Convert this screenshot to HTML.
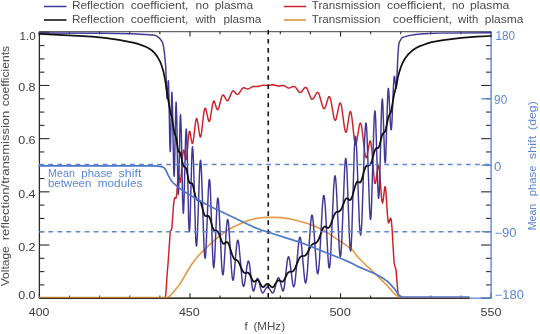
<!DOCTYPE html>
<html><head><meta charset="utf-8"><style>
html,body{margin:0;padding:0;background:#fff;}
svg{display:block;}
svg{will-change:transform;}
text{font-family:"Liberation Sans", sans-serif;}
</style></head><body>
<svg width="540" height="334" viewBox="0 0 540 334">
<rect width="540" height="334" fill="#fff"/>
<!-- legend -->
<line x1="44" y1="6.5" x2="66.5" y2="6.5" stroke="#413896" stroke-width="1.5"/>
<line x1="44" y1="20" x2="66.5" y2="20" stroke="#333" stroke-width="1.8"/>
<line x1="284" y1="6.5" x2="306" y2="6.5" stroke="#cc2229" stroke-width="1.5"/>
<line x1="284" y1="20" x2="306" y2="20" stroke="#e39a45" stroke-width="1.7"/>
<g font-size="11.6" fill="#4a4a4a">
<text x="71.9" y="9.0" textLength="52.5" lengthAdjust="spacingAndGlyphs">Reflection</text>
<text x="130.8" y="9.0" textLength="57.6" lengthAdjust="spacingAndGlyphs">coefficient,</text>
<text x="195.5" y="9.0" textLength="13.3" lengthAdjust="spacingAndGlyphs">no</text>
<text x="214.7" y="9.0" textLength="38.4" lengthAdjust="spacingAndGlyphs">plasma</text>
<text x="71.9" y="22.5" textLength="52.5" lengthAdjust="spacingAndGlyphs">Reflection</text>
<text x="130.8" y="22.5" textLength="57.6" lengthAdjust="spacingAndGlyphs">coefficient,</text>
<text x="195.5" y="22.5" textLength="20.4" lengthAdjust="spacingAndGlyphs">with</text>
<text x="223.4" y="22.5" textLength="38.0" lengthAdjust="spacingAndGlyphs">plasma</text>
<text x="311.8" y="9.0" textLength="68.6" lengthAdjust="spacingAndGlyphs">Transmission</text>
<text x="387.1" y="9.0" textLength="58.6" lengthAdjust="spacingAndGlyphs">coefficient,</text>
<text x="451.9" y="9.0" textLength="12.6" lengthAdjust="spacingAndGlyphs">no</text>
<text x="470.1" y="9.0" textLength="39.3" lengthAdjust="spacingAndGlyphs">plasma</text>
<text x="311.8" y="22.5" textLength="68.6" lengthAdjust="spacingAndGlyphs">Transmission</text>
<text x="392.8" y="22.5" textLength="59.5" lengthAdjust="spacingAndGlyphs">coefficient,</text>
<text x="458.1" y="22.5" textLength="20.2" lengthAdjust="spacingAndGlyphs">with</text>
<text x="484.8" y="22.5" textLength="38.6" lengthAdjust="spacingAndGlyphs">plasma</text>
</g>
<!-- box -->
<line x1="39.4" y1="31.6" x2="491.1" y2="31.6" stroke="#666" stroke-width="1.3"/>
<line x1="39.4" y1="32.3" x2="39.4" y2="298.2" stroke="#2a2a2a" stroke-width="1.3"/>
<line x1="39.4" y1="298.2" x2="469.6" y2="298.2" stroke="#2a2a2a" stroke-width="1.3"/>
<line x1="469.6" y1="298.2" x2="491.1" y2="298.2" stroke="#5b87d6" stroke-width="1.3"/>
<line x1="39.4" y1="298.20" x2="49.4" y2="298.20" stroke="#2a2a2a" stroke-width="1.1"/>
<line x1="491.1" y1="298.20" x2="481.1" y2="298.20" stroke="#2a2a2a" stroke-width="1.1"/>
<line x1="39.4" y1="284.90" x2="44.4" y2="284.90" stroke="#2a2a2a" stroke-width="1.1"/>
<line x1="491.1" y1="284.90" x2="486.1" y2="284.90" stroke="#2a2a2a" stroke-width="1.1"/>
<line x1="39.4" y1="271.61" x2="44.4" y2="271.61" stroke="#2a2a2a" stroke-width="1.1"/>
<line x1="491.1" y1="271.61" x2="486.1" y2="271.61" stroke="#2a2a2a" stroke-width="1.1"/>
<line x1="39.4" y1="258.31" x2="44.4" y2="258.31" stroke="#2a2a2a" stroke-width="1.1"/>
<line x1="491.1" y1="258.31" x2="486.1" y2="258.31" stroke="#2a2a2a" stroke-width="1.1"/>
<line x1="39.4" y1="245.02" x2="49.4" y2="245.02" stroke="#2a2a2a" stroke-width="1.1"/>
<line x1="491.1" y1="245.02" x2="481.1" y2="245.02" stroke="#2a2a2a" stroke-width="1.1"/>
<line x1="39.4" y1="231.72" x2="44.4" y2="231.72" stroke="#2a2a2a" stroke-width="1.1"/>
<line x1="491.1" y1="231.72" x2="486.1" y2="231.72" stroke="#2a2a2a" stroke-width="1.1"/>
<line x1="39.4" y1="218.43" x2="44.4" y2="218.43" stroke="#2a2a2a" stroke-width="1.1"/>
<line x1="491.1" y1="218.43" x2="486.1" y2="218.43" stroke="#2a2a2a" stroke-width="1.1"/>
<line x1="39.4" y1="205.13" x2="44.4" y2="205.13" stroke="#2a2a2a" stroke-width="1.1"/>
<line x1="491.1" y1="205.13" x2="486.1" y2="205.13" stroke="#2a2a2a" stroke-width="1.1"/>
<line x1="39.4" y1="191.84" x2="49.4" y2="191.84" stroke="#2a2a2a" stroke-width="1.1"/>
<line x1="491.1" y1="191.84" x2="481.1" y2="191.84" stroke="#2a2a2a" stroke-width="1.1"/>
<line x1="39.4" y1="178.55" x2="44.4" y2="178.55" stroke="#2a2a2a" stroke-width="1.1"/>
<line x1="491.1" y1="178.55" x2="486.1" y2="178.55" stroke="#2a2a2a" stroke-width="1.1"/>
<line x1="39.4" y1="165.25" x2="44.4" y2="165.25" stroke="#2a2a2a" stroke-width="1.1"/>
<line x1="491.1" y1="165.25" x2="486.1" y2="165.25" stroke="#2a2a2a" stroke-width="1.1"/>
<line x1="39.4" y1="151.95" x2="44.4" y2="151.95" stroke="#2a2a2a" stroke-width="1.1"/>
<line x1="491.1" y1="151.95" x2="486.1" y2="151.95" stroke="#2a2a2a" stroke-width="1.1"/>
<line x1="39.4" y1="138.66" x2="49.4" y2="138.66" stroke="#2a2a2a" stroke-width="1.1"/>
<line x1="491.1" y1="138.66" x2="481.1" y2="138.66" stroke="#2a2a2a" stroke-width="1.1"/>
<line x1="39.4" y1="125.37" x2="44.4" y2="125.37" stroke="#2a2a2a" stroke-width="1.1"/>
<line x1="491.1" y1="125.37" x2="486.1" y2="125.37" stroke="#2a2a2a" stroke-width="1.1"/>
<line x1="39.4" y1="112.07" x2="44.4" y2="112.07" stroke="#2a2a2a" stroke-width="1.1"/>
<line x1="491.1" y1="112.07" x2="486.1" y2="112.07" stroke="#2a2a2a" stroke-width="1.1"/>
<line x1="39.4" y1="98.78" x2="44.4" y2="98.78" stroke="#2a2a2a" stroke-width="1.1"/>
<line x1="491.1" y1="98.78" x2="486.1" y2="98.78" stroke="#2a2a2a" stroke-width="1.1"/>
<line x1="39.4" y1="85.48" x2="49.4" y2="85.48" stroke="#2a2a2a" stroke-width="1.1"/>
<line x1="491.1" y1="85.48" x2="481.1" y2="85.48" stroke="#2a2a2a" stroke-width="1.1"/>
<line x1="39.4" y1="72.18" x2="44.4" y2="72.18" stroke="#2a2a2a" stroke-width="1.1"/>
<line x1="491.1" y1="72.18" x2="486.1" y2="72.18" stroke="#2a2a2a" stroke-width="1.1"/>
<line x1="39.4" y1="58.89" x2="44.4" y2="58.89" stroke="#2a2a2a" stroke-width="1.1"/>
<line x1="491.1" y1="58.89" x2="486.1" y2="58.89" stroke="#2a2a2a" stroke-width="1.1"/>
<line x1="39.4" y1="45.59" x2="44.4" y2="45.59" stroke="#2a2a2a" stroke-width="1.1"/>
<line x1="491.1" y1="45.59" x2="486.1" y2="45.59" stroke="#2a2a2a" stroke-width="1.1"/>
<line x1="39.4" y1="32.30" x2="49.4" y2="32.30" stroke="#2a2a2a" stroke-width="1.1"/>
<line x1="491.1" y1="32.30" x2="481.1" y2="32.30" stroke="#2a2a2a" stroke-width="1.1"/>
<line x1="39.40" y1="298.2" x2="39.40" y2="293.2" stroke="#2a2a2a" stroke-width="1.1"/>
<line x1="39.40" y1="31.6" x2="39.40" y2="36.6" stroke="#2a2a2a" stroke-width="1.1"/>
<line x1="69.51" y1="298.2" x2="69.51" y2="295.59999999999997" stroke="#2a2a2a" stroke-width="1.1"/>
<line x1="69.51" y1="31.6" x2="69.51" y2="34.2" stroke="#2a2a2a" stroke-width="1.1"/>
<line x1="99.63" y1="298.2" x2="99.63" y2="295.59999999999997" stroke="#2a2a2a" stroke-width="1.1"/>
<line x1="99.63" y1="31.6" x2="99.63" y2="34.2" stroke="#2a2a2a" stroke-width="1.1"/>
<line x1="129.74" y1="298.2" x2="129.74" y2="295.59999999999997" stroke="#2a2a2a" stroke-width="1.1"/>
<line x1="129.74" y1="31.6" x2="129.74" y2="34.2" stroke="#2a2a2a" stroke-width="1.1"/>
<line x1="159.85" y1="298.2" x2="159.85" y2="295.59999999999997" stroke="#2a2a2a" stroke-width="1.1"/>
<line x1="159.85" y1="31.6" x2="159.85" y2="34.2" stroke="#2a2a2a" stroke-width="1.1"/>
<line x1="189.97" y1="298.2" x2="189.97" y2="293.2" stroke="#2a2a2a" stroke-width="1.1"/>
<line x1="189.97" y1="31.6" x2="189.97" y2="36.6" stroke="#2a2a2a" stroke-width="1.1"/>
<line x1="220.08" y1="298.2" x2="220.08" y2="295.59999999999997" stroke="#2a2a2a" stroke-width="1.1"/>
<line x1="220.08" y1="31.6" x2="220.08" y2="34.2" stroke="#2a2a2a" stroke-width="1.1"/>
<line x1="250.19" y1="298.2" x2="250.19" y2="295.59999999999997" stroke="#2a2a2a" stroke-width="1.1"/>
<line x1="250.19" y1="31.6" x2="250.19" y2="34.2" stroke="#2a2a2a" stroke-width="1.1"/>
<line x1="280.31" y1="298.2" x2="280.31" y2="295.59999999999997" stroke="#2a2a2a" stroke-width="1.1"/>
<line x1="280.31" y1="31.6" x2="280.31" y2="34.2" stroke="#2a2a2a" stroke-width="1.1"/>
<line x1="310.42" y1="298.2" x2="310.42" y2="295.59999999999997" stroke="#2a2a2a" stroke-width="1.1"/>
<line x1="310.42" y1="31.6" x2="310.42" y2="34.2" stroke="#2a2a2a" stroke-width="1.1"/>
<line x1="340.53" y1="298.2" x2="340.53" y2="293.2" stroke="#2a2a2a" stroke-width="1.1"/>
<line x1="340.53" y1="31.6" x2="340.53" y2="36.6" stroke="#2a2a2a" stroke-width="1.1"/>
<line x1="370.65" y1="298.2" x2="370.65" y2="295.59999999999997" stroke="#2a2a2a" stroke-width="1.1"/>
<line x1="370.65" y1="31.6" x2="370.65" y2="34.2" stroke="#2a2a2a" stroke-width="1.1"/>
<line x1="400.76" y1="298.2" x2="400.76" y2="295.59999999999997" stroke="#2a2a2a" stroke-width="1.1"/>
<line x1="400.76" y1="31.6" x2="400.76" y2="34.2" stroke="#2a2a2a" stroke-width="1.1"/>
<line x1="430.87" y1="298.2" x2="430.87" y2="295.59999999999997" stroke="#2a2a2a" stroke-width="1.1"/>
<line x1="430.87" y1="31.6" x2="430.87" y2="34.2" stroke="#2a2a2a" stroke-width="1.1"/>
<line x1="460.99" y1="298.2" x2="460.99" y2="295.59999999999997" stroke="#2a2a2a" stroke-width="1.1"/>
<line x1="460.99" y1="31.6" x2="460.99" y2="34.2" stroke="#2a2a2a" stroke-width="1.1"/>
<line x1="491.10" y1="298.2" x2="491.10" y2="293.2" stroke="#2a2a2a" stroke-width="1.1"/>
<line x1="491.10" y1="31.6" x2="491.10" y2="36.6" stroke="#2a2a2a" stroke-width="1.1"/>
<line x1="491.1" y1="32.3" x2="491.1" y2="298.2" stroke="#5b87d6" stroke-width="1.4"/>
<line x1="491.1" y1="32.30" x2="481.5" y2="32.30" stroke="#5b87d6" stroke-width="1.3"/>
<line x1="491.1" y1="98.78" x2="481.5" y2="98.78" stroke="#5b87d6" stroke-width="1.3"/>
<line x1="491.1" y1="165.25" x2="481.5" y2="165.25" stroke="#5b87d6" stroke-width="1.3"/>
<line x1="491.1" y1="231.72" x2="481.5" y2="231.72" stroke="#5b87d6" stroke-width="1.3"/>
<line x1="491.1" y1="298.20" x2="481.5" y2="298.20" stroke="#5b87d6" stroke-width="1.3"/>
<!-- curves -->
<g fill="none" stroke-linejoin="round" stroke-linecap="round">
<path d="M39.4,297.6 165.4,297.6 166.2,289.7 167.0,276.1 168.1,262.7 170.0,235.1 170.5,231.0 170.8,230.4 171.3,230.2 171.5,229.9 171.9,227.8 173.4,206.7 174.1,200.3 174.7,197.7 175.0,197.6 175.6,198.2 175.9,198.3 176.4,196.7 176.9,191.7 177.9,178.1 178.4,174.4 178.7,174.2 178.9,174.9 180.1,182.1 180.4,182.4 180.6,181.6 181.2,176.1 182.6,155.9 183.3,150.6 183.7,150.1 184.1,150.9 185.7,159.1 185.9,159.5 186.1,159.5 186.4,158.5 187.1,153.5 188.6,135.7 189.3,131.4 189.5,131.2 189.7,131.2 190.1,132.4 191.8,142.5 192.2,143.4 192.4,143.4 192.6,143.2 193.1,141.7 193.6,138.7 195.6,121.7 196.2,119.2 196.5,118.7 196.7,118.6 197.2,119.5 197.6,121.6 199.6,135.0 200.1,136.7 200.4,137.0 200.6,136.9 201.0,135.7 201.5,133.2 203.7,113.9 204.3,110.2 204.8,108.4 205.1,108.1 205.3,108.1 205.9,109.2 208.2,119.6 208.7,121.1 209.0,121.4 209.3,121.4 209.8,120.5 210.3,118.5 212.4,105.2 213.4,101.3 213.9,100.9 214.4,101.4 216.7,108.7 217.3,109.6 217.8,109.7 218.4,108.9 219.0,107.2 221.5,97.3 222.2,95.7 222.8,95.1 223.3,95.0 223.8,95.4 226.3,99.9 226.9,100.5 227.5,100.7 228.1,100.3 228.7,99.5 231.5,92.7 232.2,91.5 232.9,90.9 233.4,90.9 234.0,91.2 236.4,94.0 237.1,94.4 237.7,94.5 238.3,94.1 239.0,93.4 242.0,88.8 242.7,88.2 243.4,87.8 244.4,87.8 246.8,88.9 248.1,89.0 249.2,88.6 251.8,87.0 253.2,86.5 258.0,86.5 263.0,85.1 267.7,85.5 272.4,84.8 273.9,85.0 278.1,86.0 279.6,86.0 282.3,85.5 283.5,85.5 284.8,86.0 287.5,87.7 288.7,88.1 290.1,87.8 292.9,86.4 294.2,86.4 295.0,86.8 295.8,87.6 298.9,91.8 299.5,92.3 300.1,92.5 300.9,92.3 301.6,91.7 304.6,87.8 305.3,87.4 305.9,87.4 306.7,88.1 307.5,89.5 310.7,97.8 311.4,98.8 312.1,99.3 312.8,99.1 313.6,98.3 316.6,93.0 317.2,92.4 317.8,92.4 318.5,93.1 319.3,94.7 322.5,106.3 323.3,108.1 324.0,108.8 324.7,108.4 325.5,106.9 328.2,97.7 328.8,96.7 329.4,96.6 330.1,97.8 330.9,100.6 333.9,117.5 334.5,119.6 335.1,120.3 335.4,120.3 335.8,119.8 336.5,117.7 339.2,104.6 339.8,103.2 340.1,102.9 340.4,103.0 341.0,104.3 341.7,107.1 344.4,127.4 345.1,130.7 345.7,132.3 346.0,132.4 346.4,131.9 347.0,129.5 349.6,112.9 350.2,111.5 350.5,111.5 350.8,112.0 351.3,114.0 351.9,117.7 354.3,139.5 354.9,142.9 355.5,144.2 355.8,144.1 356.1,143.5 356.7,141.3 359.4,125.0 360.1,123.3 360.4,123.1 360.7,123.4 361.3,125.2 361.9,128.5 364.6,151.3 365.3,155.2 365.9,157.4 366.2,157.7 366.6,157.5 367.2,155.6 369.1,144.3 369.7,141.7 370.0,141.0 370.3,140.9 370.8,142.1 371.9,150.3 374.0,177.3 374.5,181.4 374.9,183.4 375.2,183.6 375.4,183.4 375.9,181.4 377.9,166.2 378.4,165.0 378.6,165.1 378.8,165.6 379.7,172.7 381.5,197.4 381.9,200.9 382.3,202.7 382.5,203.0 382.7,202.7 383.1,200.9 384.7,187.6 385.0,186.6 385.4,187.2 386.0,192.4 387.4,214.6 388.1,221.4 388.5,222.7 388.7,222.9 388.9,222.7 390.1,218.8 390.6,218.1 391.0,219.0 391.5,221.7 392.1,229.2 393.5,253.4 394.1,262.1 394.7,265.8 395.7,268.5 396.1,270.6 397.8,291.5 398.3,295.0 399.1,297.6 469.6,297.6" stroke="#cc2229" stroke-width="1.45"/>
<path d="M39.4,297.5 167.7,297.5 169.9,295.9 173.7,291.8 178.4,286.1 181.7,281.2 187.0,272.0 191.3,265.0 194.1,260.9 196.9,257.4 201.3,252.6 207.4,246.6 215.3,239.6 221.1,234.9 227.1,230.5 231.8,227.7 243.7,222.2 248.0,220.5 253.5,219.0 259.1,218.0 266.2,217.4 273.3,217.2 281.0,217.6 288.9,218.7 295.8,220.3 305.9,223.0 311.1,224.8 317.2,227.3 323.2,230.3 328.5,233.3 347.8,246.3 351.5,249.1 353.3,251.1 357.2,256.2 360.2,259.5 365.6,264.8 373.6,272.1 383.7,282.1 387.7,286.2 393.0,292.3 396.6,295.6 399.7,297.3 400.2,297.5 469.6,297.5" stroke="#e39a45" stroke-width="1.6"/>
<path d="M39.4,33.0 104.6,33.2 131.9,33.7 149.3,34.7 154.9,35.3 157.0,36.2 159.9,38.6 161.7,41.0 162.8,43.3 163.5,46.5 164.4,52.4 165.7,66.2 166.6,92.0 167.0,98.7 167.1,98.8 167.2,98.5 167.4,96.3 168.2,81.7 168.3,80.8 168.5,81.5 168.9,95.3 169.8,142.6 170.2,151.6 170.4,150.1 170.6,143.1 171.6,98.4 171.8,92.8 171.9,92.2 172.0,92.5 172.5,107.0 173.6,165.8 174.0,176.3 174.3,174.8 174.6,166.4 175.7,109.6 176.0,103.4 176.1,102.1 176.2,102.3 176.8,119.2 177.8,182.6 178.3,194.4 178.4,194.5 178.5,193.0 178.8,184.4 180.0,123.7 180.3,116.1 180.5,114.7 180.5,114.6 180.6,114.8 181.3,131.9 182.6,199.2 183.0,209.3 183.3,213.0 183.3,213.2 183.4,213.1 183.6,211.3 184.0,202.1 185.6,137.7 186.0,130.5 186.2,129.0 186.3,129.2 186.7,134.2 187.1,146.9 188.6,219.3 189.0,228.4 189.3,231.7 189.7,229.2 190.1,220.0 191.8,156.6 192.2,148.9 192.5,146.8 193.0,150.5 193.5,162.0 195.5,232.9 195.9,242.1 196.4,245.9 196.5,246.0 196.6,245.8 196.8,244.1 197.3,237.3 199.5,173.0 200.0,163.2 200.3,161.0 200.5,160.3 200.8,161.3 201.1,164.5 201.6,175.4 204.0,246.3 204.5,254.8 205.0,258.2 205.2,258.0 205.5,256.4 206.0,249.7 208.3,191.6 208.8,182.6 209.1,180.1 209.4,179.4 209.6,180.1 209.9,182.1 210.4,190.1 212.6,253.6 213.1,263.9 213.6,267.7 213.7,267.8 213.9,267.5 214.1,265.9 214.7,258.1 216.9,206.2 217.4,199.9 217.6,198.4 217.9,198.0 218.2,198.9 218.5,201.3 219.1,209.9 221.6,264.3 222.2,271.9 222.7,274.8 223.0,274.8 223.3,273.8 223.8,269.3 226.4,228.0 227.1,221.5 227.4,219.8 227.7,219.4 228.3,221.3 228.8,226.4 231.5,269.7 232.2,277.2 232.8,280.2 233.1,280.3 233.4,279.6 233.9,276.4 236.5,246.4 237.2,241.4 237.6,240.3 237.9,240.1 238.4,241.5 239.0,245.4 241.9,278.0 242.6,283.7 243.3,286.2 243.6,286.4 243.9,286.1 244.5,284.1 247.2,264.7 247.9,261.8 248.2,261.1 248.5,261.0 249.0,262.0 249.6,264.9 252.0,285.6 252.6,289.1 253.2,290.9 253.4,291.1 253.7,291.0 254.2,290.0 256.4,280.5 257.0,278.9 257.6,278.4 258.1,278.8 258.7,280.1 261.0,289.9 261.7,291.8 262.3,292.7 262.8,292.9 263.4,292.6 266.1,288.0 266.8,287.3 267.6,287.0 268.2,287.2 268.9,287.8 271.6,292.2 272.2,292.8 272.7,293.0 273.5,292.5 274.2,290.9 277.1,279.9 277.8,278.3 278.4,277.7 279.0,278.1 279.7,279.7 282.3,290.1 282.9,291.0 283.2,290.9 283.4,290.5 284.0,288.3 284.7,284.1 287.2,261.2 287.9,257.8 288.5,256.7 288.8,256.9 289.1,257.7 289.8,261.1 292.7,283.9 293.4,286.4 293.8,286.7 294.1,286.4 294.8,283.6 295.5,277.8 298.6,243.1 299.2,238.8 299.6,237.5 299.9,237.1 300.2,237.4 300.6,238.7 301.4,244.2 304.5,278.6 305.2,282.3 305.6,283.0 305.9,282.7 306.6,279.2 307.4,271.1 310.6,223.3 311.3,217.2 311.6,215.7 311.9,215.1 312.3,215.5 312.7,217.2 313.4,223.8 316.6,268.1 317.3,272.9 317.6,273.8 317.9,273.7 318.7,269.6 319.5,259.8 322.5,204.4 323.2,197.7 323.5,196.1 323.8,195.4 324.1,195.9 324.5,198.1 325.3,206.7 328.2,261.0 328.8,266.6 329.1,267.8 329.3,268.0 329.4,267.9 329.8,266.5 330.1,263.4 330.8,253.0 333.7,186.7 334.4,178.4 334.7,176.4 335.0,175.7 335.3,176.5 335.7,178.9 336.4,188.4 339.2,247.6 339.8,254.9 340.1,256.4 340.3,256.6 340.4,256.6 340.8,255.1 341.1,251.9 341.8,240.4 344.6,169.7 345.2,161.1 345.5,159.0 345.8,158.4 346.0,158.9 346.3,161.1 346.9,169.0 349.4,237.3 350.0,247.8 350.3,250.4 350.6,251.0 350.9,249.5 351.2,246.0 351.8,233.3 354.3,149.7 354.9,139.8 355.2,137.1 355.4,136.2 355.7,137.0 356.0,139.6 356.7,150.5 359.4,223.8 360.1,232.8 360.4,234.6 360.5,234.9 360.7,234.9 361.3,230.7 361.9,220.5 364.6,139.9 365.3,127.4 365.6,123.9 365.9,122.9 366.2,123.8 366.5,126.6 367.1,137.5 369.6,209.4 370.1,217.2 370.3,219.0 370.5,219.3 370.6,219.3 371.1,215.2 371.6,203.9 373.7,130.4 374.2,117.8 374.7,111.4 375.0,110.9 375.2,112.2 375.7,119.9 377.8,186.0 378.3,195.9 378.5,198.0 378.7,198.2 379.1,194.6 379.6,184.3 381.3,116.2 381.7,105.3 382.1,99.6 382.3,98.9 382.5,99.6 382.9,105.3 384.5,154.2 384.9,161.3 385.1,162.7 385.3,162.7 385.6,160.1 385.9,153.0 387.4,103.0 388.1,89.4 388.2,88.5 388.3,88.3 388.4,88.5 388.8,91.2 390.4,124.1 390.9,129.1 391.1,129.8 391.3,129.6 391.6,127.0 392.0,120.9 393.4,87.4 394.0,78.0 394.3,76.4 394.5,76.3 394.7,76.9 395.8,87.4 396.0,88.4 396.2,87.9 396.7,82.0 398.0,53.8 398.6,45.7 399.1,42.7 401.4,38.5 402.4,37.7 404.2,36.9 409.8,35.4 415.4,34.5 423.7,33.7 439.5,33.1 491.0,32.8" stroke="#413896" stroke-width="1.45"/>
<path d="M39.4,33.9 78.3,35.8 92.0,36.7 104.6,37.9 118.9,39.8 133.1,42.6 137.2,43.7 141.4,45.1 145.7,46.8 149.1,48.6 152.0,50.5 154.4,52.8 157.3,56.6 160.1,61.6 161.8,66.0 163.6,72.3 165.2,80.3 167.2,93.5 170.1,110.7 170.6,112.9 172.0,117.5 174.0,131.1 174.5,133.4 175.6,135.9 176.1,137.7 177.7,148.1 178.3,150.9 178.8,151.8 179.9,152.2 180.5,153.3 182.6,163.1 183.4,165.6 184.0,166.6 185.5,167.3 186.2,168.6 187.0,171.6 188.5,179.7 189.2,182.1 189.9,183.2 190.3,183.2 191.6,183.0 192.0,183.3 192.4,184.0 193.2,186.5 195.1,194.9 196.1,198.0 196.6,199.2 197.2,199.9 197.8,200.2 199.5,200.5 200.5,201.7 201.5,204.5 203.5,212.4 204.4,214.8 205.0,215.6 205.5,216.0 206.2,216.1 207.9,215.7 208.5,216.0 209.1,216.6 210.2,219.1 212.4,226.6 213.4,229.2 213.9,230.0 214.5,230.5 215.1,230.7 216.8,230.7 218.0,231.8 219.2,234.3 221.6,241.2 222.7,243.2 223.4,243.7 224.1,243.8 226.2,242.2 226.8,242.0 227.5,242.1 228.1,242.8 229.2,245.3 232.0,254.2 233.3,257.5 234.5,259.1 236.9,260.2 238.2,261.4 239.4,263.6 242.1,270.1 243.5,272.2 244.2,272.8 244.8,273.0 247.5,272.6 248.2,272.7 248.8,273.2 250.0,275.0 252.5,280.2 253.6,281.6 254.1,281.7 254.7,281.5 257.0,280.0 257.6,280.0 258.1,280.2 259.2,281.6 261.5,285.8 262.6,287.0 263.2,287.1 263.8,286.9 266.3,284.3 267.0,283.9 267.6,283.8 268.8,284.4 271.3,286.9 272.3,287.3 273.1,287.1 273.9,286.3 276.8,281.7 278.0,280.4 278.6,280.3 279.3,280.3 281.9,281.8 282.6,281.7 283.2,281.3 284.5,279.5 287.1,273.9 288.5,272.2 289.7,271.7 292.3,271.6 293.0,271.3 293.6,270.7 295.0,268.5 298.4,260.1 300.0,257.2 301.4,256.1 304.4,255.9 305.8,255.1 307.3,253.1 310.3,247.0 311.7,244.9 313.1,243.8 316.1,242.9 317.6,241.4 319.1,238.5 322.2,229.8 323.6,227.2 324.4,226.6 325.1,226.5 327.4,227.8 328.2,227.9 328.8,227.7 329.5,227.1 330.7,224.7 333.4,217.0 334.8,213.9 335.5,212.8 336.3,212.1 337.1,211.8 339.3,211.3 340.7,210.2 341.8,208.1 344.5,201.2 345.7,198.9 346.4,198.4 347.1,198.3 349.1,199.8 349.9,200.1 350.6,199.8 351.2,198.9 352.4,196.0 355.3,185.6 356.4,182.8 356.9,182.0 357.4,181.6 358.0,181.7 359.7,182.6 360.3,182.4 360.9,181.6 361.9,179.2 364.1,170.9 365.3,167.6 365.9,166.5 366.6,165.9 367.3,165.6 369.4,165.4 370.0,164.9 370.7,163.9 371.9,160.7 374.1,152.5 375.1,149.7 376.1,148.3 376.6,148.1 377.9,148.1 378.8,147.2 379.7,144.7 381.6,137.1 382.4,134.5 383.1,133.3 384.5,132.3 385.2,131.1 386.0,128.3 388.3,117.4 389.0,115.6 390.6,112.8 391.4,110.1 394.1,94.4 396.3,86.0 398.0,76.9 399.0,73.0 400.9,66.9 402.8,62.5 405.0,58.5 407.7,54.9 409.8,52.8 412.0,50.8 414.5,49.0 416.9,47.5 419.9,46.1 423.7,44.7 428.1,43.1 431.6,42.2 443.2,40.1 461.2,37.8 476.7,36.6 491.0,36.0" stroke="#111111" stroke-width="1.75"/>
</g>
<line x1="39.4" y1="298.3" x2="469.6" y2="298.3" stroke="#2a2218" stroke-width="1.1"/>
<!-- dashed -->
<line x1="39.2" y1="164.45" x2="491" y2="164.45" stroke="#5b87d6" stroke-width="1.6" stroke-dasharray="4.8 4.28"/>
<line x1="39.2" y1="231.72" x2="491" y2="231.72" stroke="#5b87d6" stroke-width="1.6" stroke-dasharray="4.8 4.28"/>
<line x1="268.26" y1="29.9" x2="268.26" y2="298.2" stroke="#111111" stroke-width="1.6" stroke-dasharray="4.6 4.47"/>
<path d="M38.4,165.9 151.2,165.9 157.8,166.1 161.6,166.6 163.8,167.6 165.0,168.9 166.3,170.9 168.0,174.8 170.6,179.6 172.8,182.5 175.7,185.2 180.4,189.0 184.2,191.5 192.0,196.3 207.0,204.7 214.6,208.6 253.6,227.1 262.0,230.3 297.9,241.6 308.0,245.2 329.4,254.0 342.3,259.0 350.4,262.6 358.7,266.9 373.9,273.2 381.5,277.3 385.0,279.6 387.7,281.7 390.5,284.4 394.3,288.6 395.9,290.7 398.5,294.7 399.8,295.9 400.7,296.5 402.9,297.0 469.5,297.0" fill="none" stroke="#4c78cb" stroke-width="1.7" stroke-linejoin="round"/>
<!-- tick labels -->
<g font-size="11.6" fill="#3c3c3c">
<text x="19.6" y="40.4" textLength="16.2" lengthAdjust="spacingAndGlyphs">1.0</text>
<text x="18.2" y="90.5" textLength="17.4" lengthAdjust="spacingAndGlyphs">0.8</text>
<text x="18.2" y="143.9" textLength="17.4" lengthAdjust="spacingAndGlyphs">0.6</text>
<text x="18.2" y="197.6" textLength="17.4" lengthAdjust="spacingAndGlyphs">0.4</text>
<text x="18.2" y="250.6" textLength="17.4" lengthAdjust="spacingAndGlyphs">0.2</text>
<text x="18.2" y="299.1" textLength="17.4" lengthAdjust="spacingAndGlyphs">0.0</text>
<text x="28.8" y="315.8" textLength="20.5" lengthAdjust="spacingAndGlyphs">400</text>
<text x="178.9" y="315.8" textLength="20.9" lengthAdjust="spacingAndGlyphs">450</text>
<text x="329.5" y="315.8" textLength="21.3" lengthAdjust="spacingAndGlyphs">500</text>
<text x="480.5" y="315.8" textLength="21.0" lengthAdjust="spacingAndGlyphs">550</text>
</g>
<g font-size="12" fill="#5b87d6">
<text x="495.5" y="40.3" textLength="19.5" lengthAdjust="spacingAndGlyphs">180</text>
<text x="494.1" y="103.75" textLength="13.1" lengthAdjust="spacingAndGlyphs">90</text>
<text x="494.0" y="170.6" textLength="7.3" lengthAdjust="spacingAndGlyphs">0</text>
<text x="494.4" y="236.7" textLength="22.1" lengthAdjust="spacingAndGlyphs">−90</text>
<text x="494.8" y="299" textLength="29.1" lengthAdjust="spacingAndGlyphs">−180</text>
</g>
<!-- axis titles -->
<g font-size="11.6" fill="#4a4a4a">
<text x="244.6" y="329.8" textLength="3.2" lengthAdjust="spacingAndGlyphs">f</text>
<text x="253.5" y="329.8" textLength="31.5" lengthAdjust="spacingAndGlyphs">(MHz)</text>
<text transform="translate(9.4,286.2) rotate(-90)" x="0" y="0" textLength="39.9" lengthAdjust="spacingAndGlyphs">Voltage</text>
<text transform="translate(9.4,240.3) rotate(-90)" x="0" y="0" textLength="129.6" lengthAdjust="spacingAndGlyphs">reflection/transmission</text>
<text transform="translate(9.4,106.2) rotate(-90)" x="0" y="0" textLength="60.3" lengthAdjust="spacingAndGlyphs">coefficients</text>
</g>
<g font-size="11.6" fill="#5b87d6">
<text x="47.9" y="176.8" textLength="27.0" lengthAdjust="spacingAndGlyphs">Mean</text>
<text x="81.3" y="176.8" textLength="31.2" lengthAdjust="spacingAndGlyphs">phase</text>
<text x="118.5" y="176.8" textLength="22.9" lengthAdjust="spacingAndGlyphs">shift</text>
<text x="47.9" y="187.3" textLength="43.4" lengthAdjust="spacingAndGlyphs">between</text>
<text x="97.7" y="187.3" textLength="44.7" lengthAdjust="spacingAndGlyphs">modules</text>
<text transform="translate(536.4,230.2) rotate(-90)" x="0" y="0" textLength="26.3" lengthAdjust="spacingAndGlyphs">Mean</text>
<text transform="translate(536.4,196.3) rotate(-90)" x="0" y="0" textLength="30.8" lengthAdjust="spacingAndGlyphs">phase</text>
<text transform="translate(536.4,159.3) rotate(-90)" x="0" y="0" textLength="23.5" lengthAdjust="spacingAndGlyphs">shift</text>
<text transform="translate(536.4,129.9) rotate(-90)" x="0" y="0" textLength="28.7" lengthAdjust="spacingAndGlyphs">(deg)</text>
</g>
</svg>
</body></html>
